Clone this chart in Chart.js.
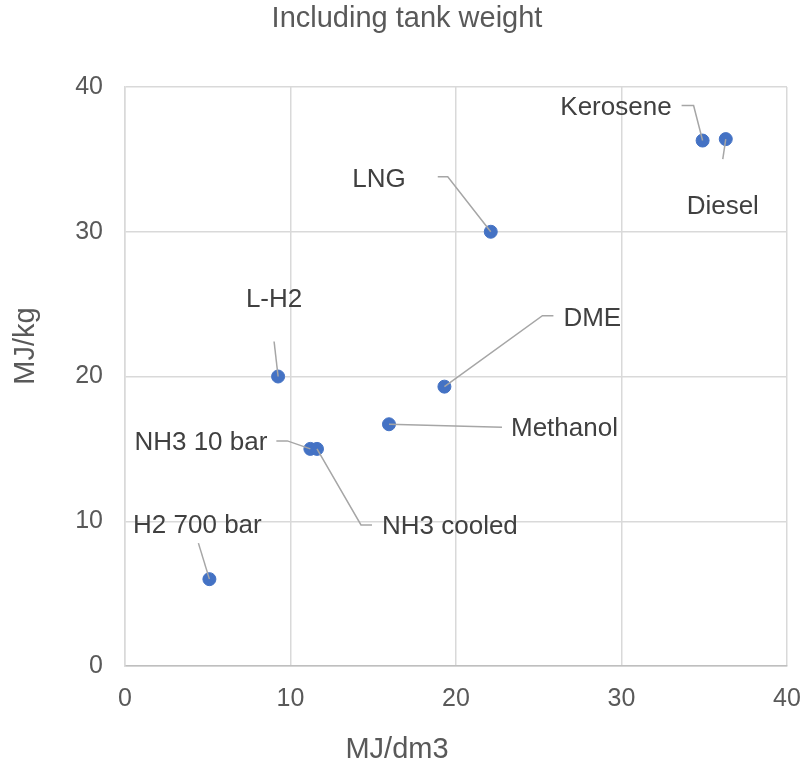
<!DOCTYPE html>
<html>
<head>
<meta charset="utf-8">
<script src="https://cdn.jsdelivr.net/npm/chart.js@4.4.1/dist/chart.umd.min.js"></script>
<style>
  html, body { margin: 0; padding: 0; background: #fff; }
  #wrap { width: 802px; height: 765px; }
</style>
</head>
<body>
<div id="wrap"><canvas id="fuelChart"></canvas></div>
<script>
// fuels and their energy density
var fuelNames = ["Kerosene", "Diesel", "LNG", "DME", "Methanol", "NH3 10 bar", "NH3 cooled", "L-H2", "H2 700 bar"];
var energyPerVolume = [34.9, 36.3, 22.1, 19.3, 15.95, 11.2, 11.6, 9.25, 5.1];   // MJ/dm3
var energyPerMass = [36.3, 36.4, 30.0, 19.3, 16.7, 15.0, 15.0, 20.0, 6.0];      // MJ/kg
var axisTicks = [0, 10, 20, 30, 40];

var chartTitle = "Including tank weight";
var xTitle = "MJ/dm3";
var yTitle = "MJ/kg";

// where each data label sits, relative to its point (px), and its leader line
var labelLayout = [
  { dx: -31, dy: -33, align: "right",  leader: [[-9, -35], [-21, -35]] },
  { dx: -3,  dy: 68,  align: "center", leader: [[-3, 20]] },
  { dx: -85, dy: -52, align: "right",  leader: [[-43, -55], [-53, -55]] },
  { dx: 119, dy: -68, align: "left",   leader: [[98, -71], [109, -71]] },
  { dx: 122, dy: 5,   align: "left",   leader: [[113, 3]] },
  { dx: -43, dy: -6,  align: "right",  leader: [[-23, -8], [-34, -8]] },
  { dx: 65,  dy: 78,  align: "left",   leader: [[44, 76], [55, 76]] },
  { dx: -4,  dy: -77, align: "center", leader: [[-4, -35]] },
  { dx: -12, dy: -53, align: "center", leader: [[-11, -36]] }
];

var FONT = "'Liberation Sans', Arial, sans-serif";

var points = energyPerVolume.map(function (v, i) {
  return { x: v, y: energyPerMass[i] };
});

var textPlugin = {
  id: "textPlugin",
  afterDatasetsDraw: function (chart) {
    var ctx = chart.ctx;
    var meta = chart.getDatasetMeta(0);
    ctx.save();

    // leader lines
    ctx.strokeStyle = "#a6a6a6";
    ctx.lineWidth = 1.5;
    meta.data.forEach(function (pt, i) {
      var lay = labelLayout[i];
      ctx.beginPath();
      ctx.moveTo(pt.x, pt.y);
      lay.leader.forEach(function (p) {
        ctx.lineTo(pt.x + p[0], pt.y + p[1]);
      });
      ctx.stroke();
    });

    // data labels
    ctx.fillStyle = "#404040";
    ctx.font = "26px " + FONT;
    ctx.textBaseline = "middle";
    meta.data.forEach(function (pt, i) {
      var lay = labelLayout[i];
      ctx.textAlign = lay.align;
      ctx.fillText(fuelNames[i], pt.x + lay.dx, pt.y + lay.dy);
    });

    // chart + axis titles
    ctx.fillStyle = "#595959";
    ctx.textAlign = "center";
    ctx.font = "29px " + FONT;
    ctx.fillText(chartTitle, 407, 19);
    ctx.fillText(xTitle, 397, 750);
    ctx.translate(26, 346);
    ctx.rotate(-Math.PI / 2);
    ctx.fillText(yTitle, 0, 0);
    ctx.restore();
  }
};

new Chart(document.getElementById("fuelChart"), {
  type: "scatter",
  data: {
    datasets: [{
      data: points,
      backgroundColor: "#4472C4",
      borderColor: "#4472C4",
      pointRadius: 6.5,
      pointHoverRadius: 6.5
    }]
  },
  options: {
    responsive: true,
    maintainAspectRatio: false,
    animation: false,
    layout: { padding: { top: 87, right: 15, left: 0, bottom: 0 } },
    plugins: { legend: { display: false }, tooltip: { enabled: false }, title: { display: false } },
    scales: {
      x: {
        type: "linear",
        min: axisTicks[0],
        max: axisTicks[axisTicks.length - 1],
        afterBuildTicks: function (s) { s.ticks = axisTicks.map(function (v) { return { value: v }; }); },
        afterFit: function (s) { s.height = 99; s.paddingLeft = 0; s.paddingRight = 0; },
        grid: { color: "#d9d9d9", lineWidth: 1.5, drawTicks: false },
        border: { color: "#bfbfbf", width: 1.5 },
        ticks: { color: "#595959", font: { family: FONT, size: 25 }, padding: 18 }
      },
      y: {
        type: "linear",
        min: axisTicks[0],
        max: axisTicks[axisTicks.length - 1],
        afterBuildTicks: function (s) { s.ticks = axisTicks.map(function (v) { return { value: v }; }); },
        afterFit: function (s) { s.width = 125; s.paddingTop = 0; s.paddingBottom = 0; },
        grid: { color: "#d9d9d9", lineWidth: 1.5, drawTicks: false },
        border: { color: "#d9d9d9", width: 1.5 },
        ticks: { color: "#595959", font: { family: FONT, size: 25 }, padding: 22 }
      }
    }
  },
  plugins: [textPlugin]
});
</script>
</body>
</html>
